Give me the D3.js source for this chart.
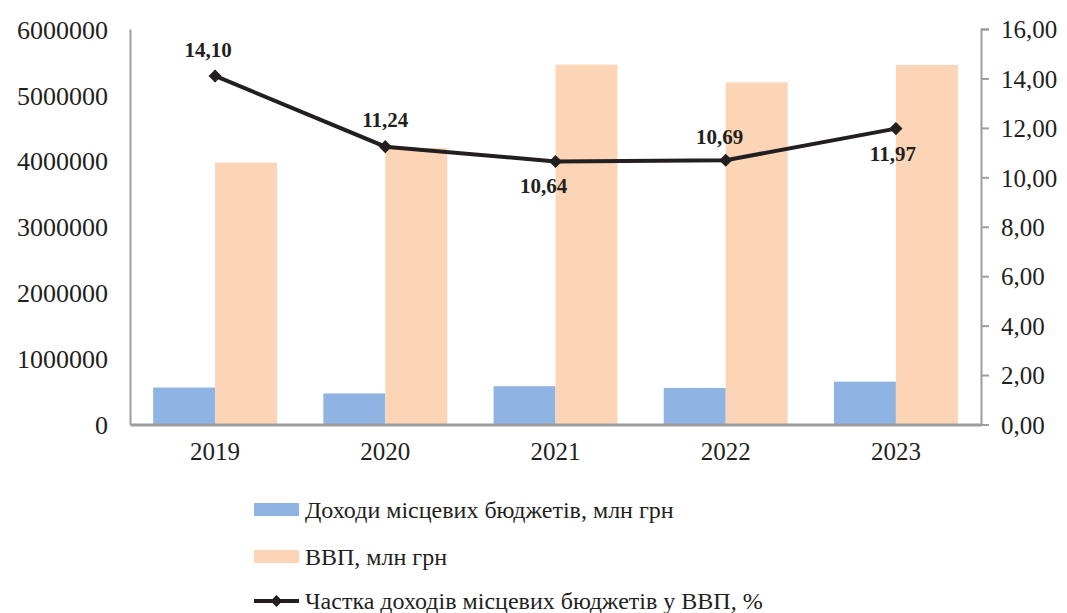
<!DOCTYPE html>
<html>
<head>
<meta charset="utf-8">
<script src="https://cdn.jsdelivr.net/npm/d3@7"></script>
<style>
  body { margin: 0; background: #fff; }
  svg text { font-family: "Liberation Serif", "Times New Roman", serif; fill: #231f20; }
</style>
</head>
<body>
<div id="chart"></div>
<script>
// data
const years = ["2019", "2020", "2021", "2022", "2023"];
const localRevenue = [560414, 471417, 580899, 554921, 650000];   // млн грн
const gdp = [3974564, 4194102, 5459574, 5191028, 5455000];        // млн грн
const share = [14.10, 11.24, 10.64, 10.69, 11.97];               // %
const leftTicks = [0, 1000000, 2000000, 3000000, 4000000, 5000000, 6000000];
const rightTicks = [0, 2, 4, 6, 8, 10, 12, 14, 16];
const legendLabels = ["Доходи місцевих бюджетів, млн грн", "ВВП, млн грн", "Частка доходів місцевих бюджетів у ВВП, %"];

const width = 1067, height = 613;
const margin = {top: 29, right: 86, bottom: 188.5, left: 130};

const svg = d3.select("#chart").append("svg")
    .attr("width", width)
    .attr("height", height);

const x0 = d3.scaleBand()
    .domain(years)
    .range([margin.left, width - margin.right])
    .paddingInner(0.272)
    .paddingOuter(0.136);

const x1 = d3.scaleBand()
    .domain(["rev", "gdp"])
    .range([0, x0.bandwidth()]);

const yL = d3.scaleLinear().domain([0, 6000000]).range([height - margin.bottom, margin.top]);
const yR = d3.scaleLinear().domain([0, 16]).range([height - margin.bottom, margin.top]);

const colors = {rev: "#8fb3e2", gdp: "#fbd5b5", line: "#231f20"};
const fmt = d => d3.format(".2f")(d).replace(".", ",");

// bars
const groups = svg.append("g").selectAll("g")
    .data(years)
  .join("g")
    .attr("transform", d => `translate(${x0(d)},0)`);

groups.append("rect")
    .attr("x", x1("rev"))
    .attr("y", (d, i) => yL(localRevenue[i]))
    .attr("width", x1.bandwidth())
    .attr("height", (d, i) => yL(0) - yL(localRevenue[i]))
    .attr("fill", colors.rev);

groups.append("rect")
    .attr("x", x1("gdp"))
    .attr("y", (d, i) => yL(gdp[i]))
    .attr("width", x1.bandwidth())
    .attr("height", (d, i) => yL(0) - yL(gdp[i]))
    .attr("fill", colors.gdp);

// left axis: line, no ticks
const leftAxis = svg.append("g")
    .attr("transform", `translate(${margin.left},0)`)
    .call(d3.axisLeft(yL).tickValues(leftTicks).tickSize(0).tickPadding(22).tickFormat(d3.format("d")));
leftAxis.select(".domain").attr("stroke", "#9d9d9f").attr("stroke-width", 2);
leftAxis.selectAll("text").attr("font-size", 26).attr("dy", "0.35em");

// right axis with outward ticks
const rightAxis = svg.append("g")
    .attr("transform", `translate(${width - margin.right},0)`)
    .call(d3.axisRight(yR).tickValues(rightTicks).tickSizeOuter(0).tickSize(8).tickPadding(12).tickFormat(fmt));
rightAxis.select(".domain").attr("stroke", "#9d9d9f").attr("stroke-width", 2);
rightAxis.selectAll("line").attr("stroke", "#9d9d9f").attr("stroke-width", 2);
rightAxis.selectAll("text").attr("font-size", 25).attr("dy", "0.35em");

// bottom axis
const bottomAxis = svg.append("g")
    .attr("transform", `translate(0,${yL(0)})`)
    .call(d3.axisBottom(x0).tickSize(0).tickPadding(18));
bottomAxis.select(".domain").attr("stroke", "#9d9d9f").attr("stroke-width", 3);
bottomAxis.selectAll("text").attr("font-size", 25);

// share line
const cx = d => x0(d) + x0.bandwidth() / 2;
const line = d3.line()
    .x((d, i) => cx(years[i]))
    .y(d => yR(d));

svg.append("path")
    .datum(share)
    .attr("d", line)
    .attr("fill", "none")
    .attr("stroke", colors.line)
    .attr("stroke-width", 4);

svg.append("g").selectAll("path")
    .data(share)
  .join("path")
    .attr("d", d3.symbol(d3.symbolDiamond2, 110))
    .attr("transform", (d, i) => `translate(${cx(years[i])},${yR(d)})`)
    .attr("fill", colors.line);

// data labels: above or below the marker, as in the picture
const labelPos = [[-7, -19], [0, -20], [-12, 32], [-6, -16], [-3, 32]];
svg.append("g").selectAll("text")
    .data(share)
  .join("text")
    .attr("x", (d, i) => cx(years[i]) + labelPos[i][0])
    .attr("y", (d, i) => yR(d) + labelPos[i][1])
    .attr("text-anchor", "middle")
    .attr("font-size", 21)
    .attr("font-weight", "bold")
    .text(fmt);

// legend
const legend = svg.append("g").attr("transform", "translate(254,0)");
const rowY = [510, 557, 601];

legend.append("rect").attr("x", 0).attr("y", rowY[0] - 7).attr("width", 45).attr("height", 13).attr("fill", colors.rev);
legend.append("rect").attr("x", 0).attr("y", rowY[1] - 7).attr("width", 45).attr("height", 13).attr("fill", colors.gdp);
legend.append("line").attr("x1", 0).attr("x2", 45).attr("y1", rowY[2]).attr("y2", rowY[2])
    .attr("stroke", colors.line).attr("stroke-width", 4);
legend.append("path").attr("d", d3.symbol(d3.symbolDiamond2, 90))
    .attr("transform", `translate(22.5,${rowY[2]})`).attr("fill", colors.line);

legend.selectAll("text.lg")
    .data(legendLabels)
  .join("text")
    .attr("class", "lg")
    .attr("x", 51)
    .attr("y", (d, i) => rowY[i])
    .attr("dy", "0.35em")
    .attr("font-size", 24)
    .text(d => d);
</script>
</body>
</html>
